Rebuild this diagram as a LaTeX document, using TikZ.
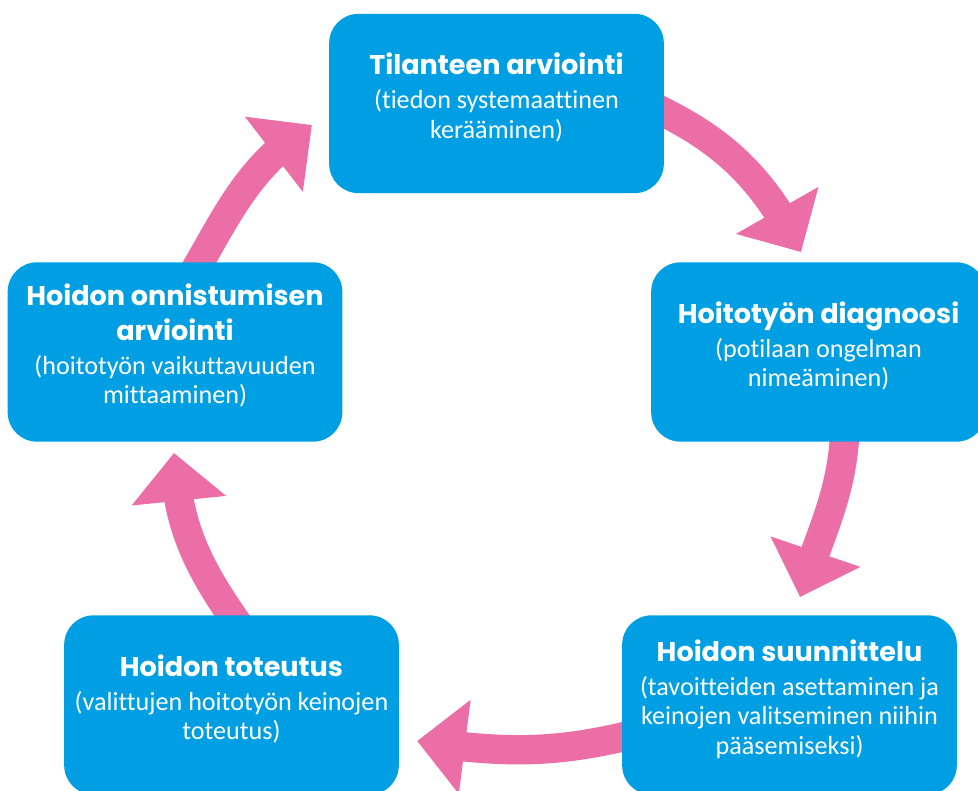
\documentclass[tikz,border=0pt]{standalone}
\usepackage{fontspec}
\setmainfont{Carlito}[Ligatures=NoCommon]
\newfontfamily\headfont{Poppins}
\usetikzlibrary{arrows.meta,bending,calc,backgrounds}
\definecolor{stageblue}{RGB}{0,159,227}
\definecolor{cyclepink}{RGB}{236,110,166}
\newcommand{\hd}[1]{{\headfont\bfseries\fontsize{20.3}{26}\selectfont #1}}

\begin{document}
\begin{tikzpicture}[x=0.75pt,y=0.75pt,
  stage/.style={rectangle, rounded corners=22pt, fill=stageblue, text=white,
    minimum width=251pt, minimum height=134.5pt, inner sep=0pt, align=center,
    font=\fontsize{19.6}{22}\selectfont,
    execute at end node={\rule[-12pt]{0pt}{0pt}}},
  cyclearrow/.style={line width=22pt, draw=cyclepink,
    -{Triangle[width=69pt,length=36pt]}}]
  \clip (0,0) rectangle (978,790);
  % phases
  \node[stage] (tila) at (496.5,686.5) {\hd{Tilanteen arviointi}\\[3.5pt](tiedon systemaattinen\\kerääminen)};
  \node[stage] (diag) at (818.5,438) {\hd{Hoitotyön diagnoosi}\\[3.5pt](potilaan ongelman\\nimeäminen)};
  \node[stage] (suun) at (789.5,85) {\hd{Hoidon suunnittelu}\\[3.5pt](tavoitteiden asettaminen ja\\keinojen valitseminen niihin\\pääsemiseksi)};
  \node[stage] (tote) at (231.5,85) {\hd{Hoidon toteutus}\\[3.5pt](valittujen hoitotyön keinojen\\toteutus)};
  \node[stage] (arvi) at (175,438) {\hd{Hoidon onnistumisen}\\[4pt]\hd{arviointi}\\[3.5pt](hoitotyön vaikuttavuuden\\mittaaminen)};
  % arrow tips
  \coordinate (tip1) at ($(diag.north)+(-17.5,10)$);
  \coordinate (tip2) at ($(suun.north)+(10.5,18)$);
  \coordinate (tip3) at ($(tote.east)+(18,-36)$);
  \coordinate (tip4) at ($(arvi.south)+(-1,-11)$);
  \coordinate (tip5) at ($(tila.west)+(-17,-21.5)$);
  % cycle arrows
  \begin{scope}[on background layer]
    \draw[cyclearrow] ($(tila.east)+(-14,-2)$) to[out=-25,in=117] (tip1);
    \draw[cyclearrow] ($(diag.south)+(26.5,11)$) to[out=-93,in=73] (tip2);
    \draw[cyclearrow] ($(suun.west)+(13,-29)$) to[out=194,in=-8] (tip3);
    \draw[cyclearrow] ($(tote.north)+(7,-10)$) to[out=125,in=-88] (tip4);
    \draw[cyclearrow] ($(arvi.north)+(19,-10)$) to[out=60,in=213] (tip5);
  \end{scope}
\end{tikzpicture}
\end{document}
